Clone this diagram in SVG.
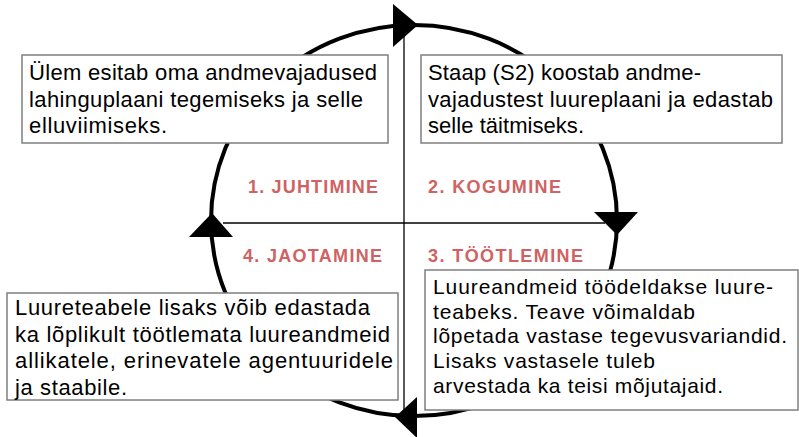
<svg xmlns="http://www.w3.org/2000/svg" width="799" height="437" viewBox="0 0 799 437">
<style>
.box{fill:#fff;stroke:#7f7f7f;stroke-width:1.5}
.t{font-family:"Liberation Sans",Arial,sans-serif;font-size:22px;fill:#000}
.t3{font-size:21px}
.lbl{font-family:"Liberation Sans",Arial,sans-serif;font-size:18px;font-weight:bold;fill:#cf6262}
.arr{fill:#000}
</style>
<rect width="799" height="437" fill="#fff"/>
<g id="connectors">
<ellipse cx="414" cy="220.5" rx="203" ry="195.5" fill="none" stroke="#000" stroke-width="4"/>
<line x1="404" y1="25" x2="404" y2="410" stroke="#000" stroke-width="1.3"/>
<line x1="223" y1="223" x2="605" y2="223" stroke="#000" stroke-width="1.3"/>
<polygon class="arr" points="393,4 393,47 418,25"/>
<polygon class="arr" points="594,212 638,212 617,235"/>
<polygon class="arr" points="417,397 417,438 395,417"/>
<polygon class="arr" points="189,237 233,237 212,213"/>
</g>
<g id="labels">
<text class="lbl" x="248" y="193" textLength="130" lengthAdjust="spacing">1. JUHTIMINE</text>
<text class="lbl" x="428" y="193" textLength="133" lengthAdjust="spacing">2. KOGUMINE</text>
<text class="lbl" x="243" y="262" textLength="139" lengthAdjust="spacing">4. JAOTAMINE</text>
<text class="lbl" x="428" y="262" textLength="155" lengthAdjust="spacing">3. TÖÖTLEMINE</text>
</g>
<g id="box1">
<rect class="box" x="22" y="55" width="366" height="88"/>
<text class="t" x="29" y="80" textLength="348" lengthAdjust="spacing">Ülem esitab oma andmevajadused</text>
<text class="t" x="29" y="107" textLength="334" lengthAdjust="spacing">lahinguplaani tegemiseks ja selle</text>
<text class="t" x="29" y="133" textLength="138" lengthAdjust="spacing">elluviimiseks.</text>
</g>
<g id="box2">
<rect class="box" x="421" y="55" width="361" height="88"/>
<text class="t" x="428" y="80" textLength="273" lengthAdjust="spacing">Staap (S2) koostab andme-</text>
<text class="t" x="428" y="107" textLength="345" lengthAdjust="spacing">vajadustest luureplaani ja edastab</text>
<text class="t" x="428" y="133" textLength="156" lengthAdjust="spacing">selle täitmiseks.</text>
</g>
<g id="box3">
<rect class="box" x="425" y="270" width="373" height="140"/>
<text class="t t3" x="433" y="294" textLength="340" lengthAdjust="spacing">Luureandmeid töödeldakse luure-</text>
<text class="t t3" x="433" y="318.7" textLength="262" lengthAdjust="spacing">teabeks.  Teave võimaldab</text>
<text class="t t3" x="433" y="343.4" textLength="354" lengthAdjust="spacing">lõpetada vastase tegevusvariandid.</text>
<text class="t t3" x="433" y="368" textLength="222" lengthAdjust="spacing">Lisaks vastasele tuleb</text>
<text class="t t3" x="433" y="392.8" textLength="290" lengthAdjust="spacing">arvestada ka teisi mõjutajaid.</text>
</g>
<g id="box4">
<rect class="box" x="7" y="293" width="391" height="107"/>
<text class="t" x="15" y="315" textLength="355" lengthAdjust="spacing">Luureteabele lisaks võib edastada</text>
<text class="t" x="15" y="342" textLength="375" lengthAdjust="spacing">ka lõplikult töötlemata luureandmeid</text>
<text class="t" x="15" y="368" textLength="378" lengthAdjust="spacing">allikatele, erinevatele agentuuridele</text>
<text class="t" x="15" y="395" textLength="112" lengthAdjust="spacing">ja staabile.</text>
</g>
</svg>
